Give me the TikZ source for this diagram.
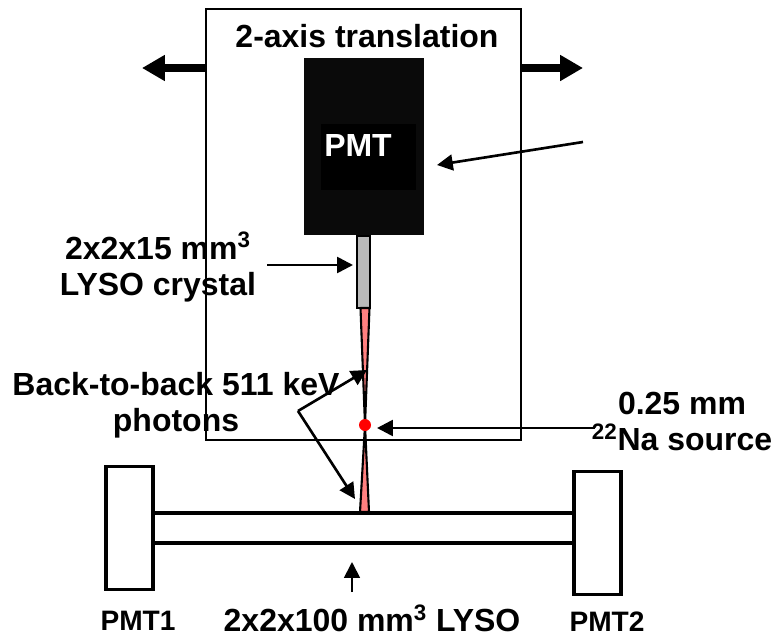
\documentclass[tikz,border=0pt]{standalone}
\usepackage{fontspec}
\setmainfont{Liberation Sans}
\usepackage{tikz}
\usetikzlibrary{arrows.meta}
\def\px{0.02cm}
\tikzstyle{lbl_b} = [font=\fontsize{18.2}{21}\selectfont\bfseries, inner sep=0pt, align=center, text=black]
\tikzstyle{lbl_s} = [font=\fontsize{16}{19}\selectfont\bfseries, inner sep=0pt, align=center, text=black]
\tikzstyle{box_w} = [rectangle, draw=black, fill=white, line width=2pt, inner sep=0pt]
\tikzstyle{fan_r} = [draw=black, fill=red!50!white, line width=1.2pt, line join=round]
\tikzstyle{arr_n} = [-{Triangle[length=9pt,width=9pt]}, line width=1.5pt, black]
\tikzstyle{arr_f} = [-{Triangle[length=13pt,width=14pt]}, line width=4.5pt, black]

\begin{document}
\begin{tikzpicture}[x=\px,y=-\px]
\useasboundingbox (0,0) rectangle (775,636);
\node [box_w, line width=1pt, minimum width=315*\px, minimum height=431*\px, name=frame] at (363.5,224.5) {};
\node [rectangle, fill=black!96, inner sep=0pt, minimum width=120*\px, minimum height=177*\px, name=tube] at (364,146.5) {};
\node [rectangle, fill=black, inner sep=0pt, minimum width=95*\px, minimum height=66*\px, name=window] at (368.5,157) {};
\node [rectangle, draw=black, fill=black!27, line width=1.4pt, inner sep=0pt, minimum width=13*\px, minimum height=72*\px, anchor=north, name=crystal] at (363.5,235) {};
% gamma fans
\coordinate (src) at (365,425);
\draw [fan_r] (360.5,308) -- (369.5,308) -- (src) -- cycle;
\draw [fan_r] (360,512) -- (369,512) -- (src) -- cycle;
\node [circle, fill=red, inner sep=0pt, minimum size=12*\px, name=source] at (src) {};
% long crystal and readout
\node [box_w, minimum width=47*\px, minimum height=123*\px, name=pmt1] at (129.5,528) {};
\node [box_w, minimum width=47*\px, minimum height=123*\px, name=pmt2] at (597.5,533) {};
\node [inner sep=0pt, minimum width=419*\px, minimum height=30*\px, name=bar] at (364,528) {};
\draw [line width=2.2pt] (bar.north west) -- (bar.north east);
\draw [line width=2.2pt] (bar.south west) -- (bar.south east);
% labels
\node [lbl_b, name=title] at (367,36) {2-axis translation};
\node [lbl_b, text=white, name=pmtlabel] at (358,145) {PMT};
\node [lbl_b, name=crystallabel] at (158,267) {2x2x15 mm\textsuperscript{3}\\[-0.5pt]LYSO crystal};
\node [lbl_b, name=photonlabel] at (176,405) {Back-to-back 511 keV\\[-0.5pt]photons};
\node [lbl_b, name=sourcelabel] at (682,421) {0.25 mm\\[-0.5pt]\textsuperscript{22}Na source};
\node [lbl_s, name=pmt1label] at (138,621) {PMT1};
\node [lbl_s, name=pmt2label] at (607,622) {PMT2};
\node [lbl_b, name=barlabel] at (372,618) {2x2x100 mm\textsuperscript{3} LYSO};
% free ends
\coordinate (moveL) at (142,68);
\coordinate (moveR) at (583,68);
\coordinate (tubeS) at (583,142);
\coordinate (tubeE) at (437,165);
\coordinate (xtalS) at (267,265);
\coordinate (xtalE) at (353,265);
\coordinate (srcS) at (595,428);
\coordinate (srcE) at (377,428);
\coordinate (barS) at (352,592);
\coordinate (barE) at (352,562);
\coordinate (fork) at (298,411);
\coordinate (upE) at (367,370);
\coordinate (dnE) at (355,499);
% arrows
\draw [arr_f] (frame.west |- moveL) -- (moveL);
\draw [arr_f] (frame.east |- moveR) -- (moveR);
\draw [arr_n] (tubeS) -- (tubeE);
\draw [arr_n] (xtalS) -- (xtalE);
\draw [arr_n] (srcS) -- (srcE);
\draw [arr_n, line width=1pt] (barS) -- (barE);
\draw [arr_n] (fork) -- (upE);
\draw [arr_n] (fork) -- (dnE);
\end{tikzpicture}
\end{document}
